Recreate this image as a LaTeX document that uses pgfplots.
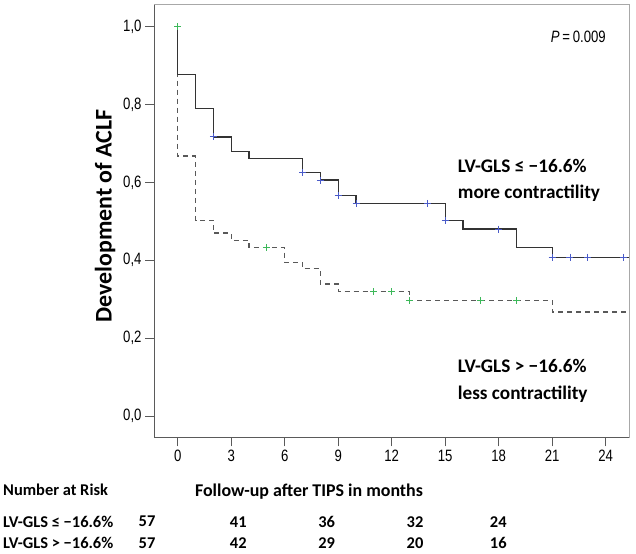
\documentclass[border=0pt]{standalone}
\usepackage{fontspec}
\setmainfont{Carlito}
\newfontfamily\tickfont{Liberation Sans}[FakeStretch=0.8]
\usepackage{pgfplots}
\pgfplotsset{compat=1.18}
\definecolor{censblue}{HTML}{4A5BC8}
\definecolor{censgreen}{HTML}{3DB85A}
\definecolor{axisdark}{HTML}{5A5A5A}
\definecolor{axislight}{HTML}{A8A8A8}
\begin{document}
\begin{tikzpicture}
\path[use as bounding box] (0,0) rectangle (636bp,554bp);
\begin{axis}[
  at={(154bp,116.7bp)}, anchor=south west,
  scale only axis, width=475bp, height=432.6bp,
  xmin=-1.33, xmax=25.31, ymin=-0.0547, ymax=1.0565,
  axis line style={draw=axislight, line width=0.9bp},
  tick pos=left, tick align=outside,
  major tick length=9bp,
  tick style={draw=axisdark, line width=1bp},
  xtick={0,3,...,24}, ytick={0,0.2,0.4,0.6,0.8,1.0},
  /pgf/number format/assume math mode=true,
  yticklabel style={font=\tickfont\fontsize{16.5}{16.5}\selectfont, /pgf/number format/.cd, use comma, fixed, fixed zerofill, precision=1},
  xticklabel style={font=\tickfont\fontsize{16.5}{16.5}\selectfont},
  clip=false,
]
\draw[axisdark, line width=1bp] (rel axis cs:0,1) -- (rel axis cs:0,0) -- (rel axis cs:1,0);
\addplot[const plot, draw=black!65, line width=1.2bp, dash pattern=on 5bp off 4bp] coordinates {
(0,1) (0,0.668) (1,0.503) (2,0.470) (3,0.451) (4,0.433) (6,0.395) (7,0.378) (8,0.339) (9,0.319) (13,0.297) (21,0.267) (25.31,0.267)};
\addplot[const plot, draw=black!80, line width=1.3bp] coordinates {
(0,1) (0,0.877) (1,0.789) (2,0.717) (3,0.679) (4,0.661) (7,0.625) (8,0.606) (9,0.566) (10,0.546) (15,0.502) (16,0.480) (19,0.432) (21,0.408) (25.31,0.408)};
\addplot[only marks, mark=+, mark size=3.5bp, mark options={draw=censblue, line width=0.9bp}] coordinates {
(2,0.717) (7,0.625) (8,0.606) (9,0.566) (10,0.546) (14,0.546) (15,0.502) (18,0.480) (21,0.408) (22,0.408) (23,0.408) (25,0.408)};
\addplot[only marks, mark=+, mark size=3.5bp, mark options={draw=censgreen, line width=0.9bp}] coordinates {
(0,1.0) (5,0.433) (11,0.319) (12,0.319) (13,0.297) (17,0.297) (19,0.297)};
\end{axis}
% texts
\node[anchor=east, font=\tickfont\fontsize{16.5}{16.5}\selectfont, inner sep=0] at (606bp,517bp) {\textit{P}\,=\,0.009};
\node[anchor=west, align=left, font=\bfseries\fontsize{19.3}{25.5}\selectfont, inner sep=0] at (457.7bp,373.6bp) {LV-GLS ≤ −16.6\%\\more contractility};
\node[anchor=west, align=left, font=\bfseries\fontsize{19.3}{26.3}\selectfont, inner sep=0] at (457.7bp,173.2bp) {LV-GLS > −16.6\%\\less contractility};
\node[rotate=90, font=\bfseries\fontsize{24}{24}\selectfont, inner sep=0] at (105bp,338bp) {Development of ACLF};
\node[font=\bfseries\fontsize{18}{18}\selectfont, inner sep=0] at (309bp,62.3bp) {Follow-up after TIPS in months};
\node[anchor=west, font=\bfseries\fontsize{16.5}{16.5}\selectfont, inner sep=0] at (3bp,64bp) {Number at Risk};
\node[anchor=west, font=\bfseries\fontsize{16.5}{16.5}\selectfont, inner sep=0] at (3bp,32.3bp) {LV-GLS ≤ −16.6\%};
\node[anchor=west, font=\bfseries\fontsize{16.5}{16.5}\selectfont, inner sep=0] at (3bp,10.7bp) {LV-GLS > −16.6\%};
\foreach \x/\a/\b in {147/57/57, 238.3/41/42, 326.7/36/29, 415/32/20, 498.3/24/16} {
  \node[font=\bfseries\fontsize{16.5}{16.5}\selectfont, inner sep=0] at (\x bp,32.3bp) {\a};
  \node[font=\bfseries\fontsize{16.5}{16.5}\selectfont, inner sep=0] at (\x bp,10.7bp) {\b};
}
\end{tikzpicture}
\end{document}
